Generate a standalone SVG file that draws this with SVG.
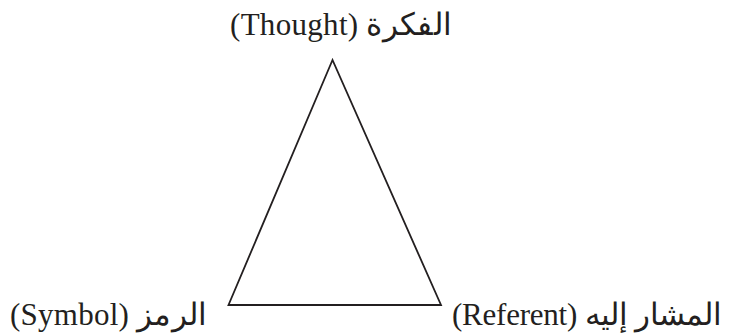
<svg xmlns="http://www.w3.org/2000/svg" width="730" height="336" viewBox="0 0 730 336">
<style>
.lbl{font-family:"Liberation Serif","DejaVu Serif",serif;font-size:31px;fill:#231f20;}
.edge{fill:none;stroke:#231f20;stroke-width:1.8;stroke-linejoin:miter;}
</style>
<rect width="730" height="336" fill="#ffffff"/>
<g id="connectors">
<polygon class="edge" points="332.5,60 228.5,305 441,305"/>
</g>
<g id="thought">
<text class="lbl" x="341" y="35" text-anchor="middle" direction="rtl" textLength="222" lengthAdjust="spacing">الفكرة (Thought)</text>
</g>
<g id="symbol">
<text class="lbl" x="108.5" y="325" text-anchor="middle" direction="rtl" textLength="197" lengthAdjust="spacing">الرمز (Symbol)</text>
</g>
<g id="referent">
<text class="lbl" x="587" y="325" text-anchor="middle" direction="rtl" textLength="270" lengthAdjust="spacing">المشار إليه (Referent)</text>
</g>
</svg>
